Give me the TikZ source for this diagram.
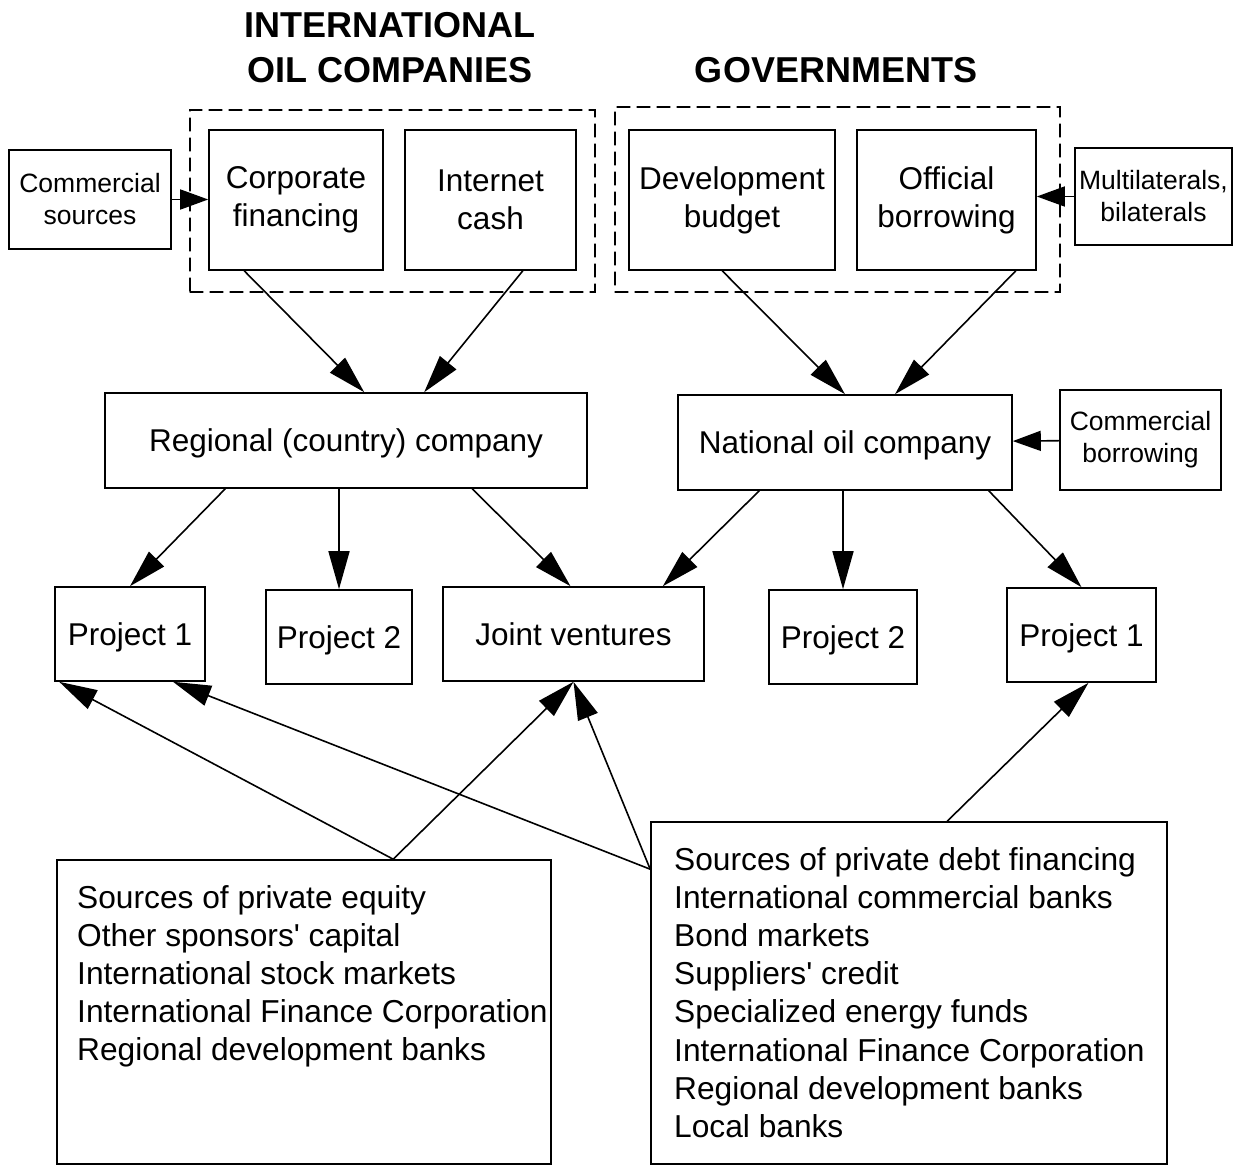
\documentclass[tikz,border=0pt]{standalone}
\usepackage{fontspec}
\setmainfont{Liberation Sans}
\usetikzlibrary{arrows.meta, fit}

\begin{document}
\begin{tikzpicture}[x=1pt, y=-1pt, line cap=round,
  box/.style={draw, line width=1.6pt, align=center, inner sep=0pt,
    font=\fontsize{31.5}{38}\selectfont},
  linebox/.style={box, text depth=0pt},
  smallbox/.style={box, font=\fontsize{26.5}{32}\selectfont},
  group/.style={draw, dash pattern=on 13pt off 7pt, line width=1.2pt, inner sep=0pt},
  listtext/.style={align=left, inner sep=0pt, anchor=north west,
    font=\fontsize{31.7}{38.2}\selectfont},
  title/.style={align=center, inner sep=0pt, font=\bfseries\fontsize{36}{45}\selectfont},
  flow/.style={line width=1.6pt, -{Triangle[length=38pt, width=21pt]}},
  feed/.style={line width=1.6pt, -{Triangle[length=28pt, width=20pt]}}]
  \useasboundingbox (0,0) rectangle (1239,1166);

  % Headings.
  \node[title] (ioctitle) at (390,48) {INTERNATIONAL\\OIL COMPANIES};
  \node[title] (govtitle) at (836,70) {GOVERNMENTS};

  % Sources of funds, top row.
  \node[smallbox, minimum width=162pt, minimum height=99pt] (comsrc) at (90,199.5) {Commercial\\sources};
  \node[box, minimum width=174pt, minimum height=140pt] (corp) at (296,200) {Corporate\\financing};
  \node[box, minimum width=171pt, minimum height=140pt] (cash) at (490.5,200) {Internet\\cash};
  \node[box, minimum width=206pt, minimum height=140pt] (devb) at (732,200) {Development\\budget};
  \node[box, minimum width=179pt, minimum height=140pt] (offb) at (946.5,200) {Official\\borrowing};
  \node[smallbox, minimum width=157pt, minimum height=97pt] (multi) at (1153.5,196.5) {Multilaterals,\\bilaterals};
  \node[group, fit={(190,110) (595,292)}] (iocframe) {};
  \node[group, fit={(615,107) (1060,292)}] (govframe) {};

  % Companies.
  \node[linebox, minimum width=482pt, minimum height=95pt] (regc) at (346,440.5) {Regional (country) company};
  \node[linebox, minimum width=334pt, minimum height=95pt] (noc) at (845,442.5) {National oil company};
  \node[smallbox, minimum width=161pt, minimum height=100pt] (combor) at (1140.5,440) {Commercial\\borrowing};

  % Projects.
  \node[linebox, minimum width=150pt, minimum height=94pt] (proja) at (130,634) {Project 1};
  \node[linebox, minimum width=146pt, minimum height=94pt] (projb) at (339,637) {Project 2};
  \node[linebox, minimum width=261pt, minimum height=94pt] (jv) at (573.5,634) {Joint ventures};
  \node[linebox, minimum width=148pt, minimum height=94pt] (projc) at (843,637) {Project 2};
  \node[linebox, minimum width=149pt, minimum height=94pt] (projd) at (1081.5,635) {Project 1};

  % Private finance.
  \node[box, minimum width=494pt, minimum height=304pt] (equity) at (304,1012) {};
  \node[box, minimum width=516pt, minimum height=342pt] (debt) at (909,993) {};
  \node[listtext] (equitylist) at (77,885) {Sources of private equity\\
    Other sponsors\textquotesingle\ capital\\
    International stock markets\\
    International Finance Corporation\\
    Regional development banks};
  \node[listtext] (debtlist) at (674,847) {Sources of private debt financing\\
    International commercial banks\\
    Bond markets\\
    Suppliers\textquotesingle\ credit\\
    Specialized energy funds\\
    International Finance Corporation\\
    Regional development banks\\
    Local banks};

  % Outside money into the top row.
  \draw[feed] (comsrc.east) -- (comsrc.east -| corp.west);
  \draw[feed] (multi.west) -- (multi.west -| offb.east);
  \draw[feed] (combor) -- (noc);

  % Top row into the companies.
  \draw[flow] ([xshift=36pt]corp.south west) -- ([xshift=260pt]regc.north west);
  \draw[flow] ([xshift=-54pt]cash.south east) -- ([xshift=320pt]regc.north west);
  \draw[flow] ([xshift=94pt]devb.south west) -- (noc.north);
  \draw[flow] ([xshift=-21pt]offb.south east) -- ([xshift=50pt]noc.north);

  % Companies into the projects.
  \draw[flow] ([xshift=121pt]regc.south west) -- (proja.north);
  \draw[flow] (regc.south -| projb.north) -- (projb.north);
  \draw[flow] ([xshift=368pt]regc.south west) -- ([xshift=-3pt]jv.north);
  \draw[flow] ([xshift=82pt]noc.south west) -- ([xshift=-42pt]jv.north east);
  \draw[flow] (noc.south -| projc.north) -- (projc.north);
  \draw[flow] ([xshift=-24pt]noc.south east) -- (projd.north);

  % Private money up to the projects.
  \coordinate (eqtop) at ([xshift=337pt]equity.north west);
  \coordinate (dbtop) at ([yshift=-48pt]debt.north west);
  \draw[flow] (eqtop) -- ([xshift=5pt]proja.south west);
  \draw[flow] (eqtop) -- (jv.south);
  \draw[flow] (dbtop) -- ([xshift=43pt]proja.south);
  \draw[flow] (dbtop) -- (jv.south);
  \draw[flow] ([xshift=297pt]debt.north west) -- ([xshift=7pt]projd.south);
\end{tikzpicture}
\end{document}
